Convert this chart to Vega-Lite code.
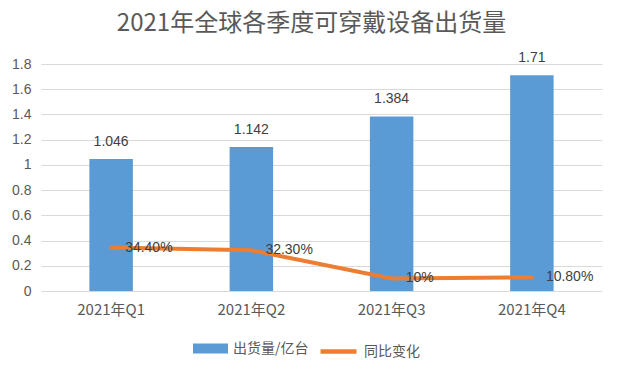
{
  "$schema": "https://vega.github.io/schema/vega-lite/v6.json",
  "width": 561,
  "height": 227,
  "autosize": {"type": "none"},
  "padding": {"left": 41, "top": 64, "right": 18, "bottom": 81},
  "background": "white",
  "title": {
    "text": "2021年全球各季度可穿戴设备出货量",
    "fontSize": 24,
    "font": "Noto Sans CJK SC",
    "fontWeight": "normal",
    "color": "#595959",
    "anchor": "middle",
    "offset": 15,
    "dx": -10
  },
  "data": {
    "values": [
      {"quarter": "2021年Q1", "shipment": 1.046, "yoy": 0.344, "yoyLabel": "34.40%", "s1": "出货量/亿台", "s2": "同比变化"},
      {"quarter": "2021年Q2", "shipment": 1.142, "yoy": 0.323, "yoyLabel": "32.30%", "s1": "出货量/亿台", "s2": "同比变化"},
      {"quarter": "2021年Q3", "shipment": 1.384, "yoy": 0.10, "yoyLabel": "10%", "s1": "出货量/亿台", "s2": "同比变化"},
      {"quarter": "2021年Q4", "shipment": 1.71, "yoy": 0.108, "yoyLabel": "10.80%", "s1": "出货量/亿台", "s2": "同比变化"}
    ]
  },
  "encoding": {
    "x": {
      "field": "quarter",
      "type": "nominal",
      "sort": null,
      "scale": {"paddingInner": 0.69, "paddingOuter": 0.345},
      "axis": {
        "title": null,
        "labelAngle": 0,
        "ticks": false,
        "domain": false,
        "labelFontSize": 15,
        "labelColor": "#595959",
        "labelFont": "Noto Sans CJK SC",
        "labelPadding": 11
      }
    }
  },
  "layer": [
    {
      "mark": {"type": "bar", "color": "#5B9BD5"},
      "encoding": {
        "y": {
          "field": "shipment",
          "type": "quantitative",
          "scale": {"domain": [0, 1.8]},
          "axis": {
            "title": null,
            "values": [0, 0.2, 0.4, 0.6, 0.8, 1, 1.2, 1.4, 1.6, 1.8],
            "format": "~g",
            "labelOverlap": false,
            "ticks": false,
            "domain": false,
            "gridColor": "#D9D9D9",
            "labelFontSize": 14,
            "labelColor": "#595959",
            "labelFont": "Liberation Sans",
            "labelPadding": 10
          }
        },
        "color": {
          "field": "s1",
          "type": "nominal",
          "scale": {"range": ["#5B9BD5"]},
          "legend": {
            "title": null,
            "orient": "none",
            "legendX": 152,
            "legendY": 267,
            "symbolType": "M-1,-0.286H1V0.286H-1Z",
            "symbolSize": 1225,
            "symbolStrokeWidth": 0,
            "labelFontSize": 14,
            "labelOffset": 5,
            "labelColor": "#595959",
            "labelFont": "Noto Sans CJK SC"
          }
        }
      }
    },
    {
      "mark": {"type": "text", "baseline": "bottom", "dy": -10, "fontSize": 14, "color": "#404040", "font": "Liberation Sans"},
      "encoding": {
        "y": {"field": "shipment", "type": "quantitative", "scale": {"domain": [0, 1.8]}, "axis": {"title": null, "values": [0, 0.2, 0.4, 0.6, 0.8, 1, 1.2, 1.4, 1.6, 1.8], "format": "~g", "labelOverlap": false}},
        "text": {"field": "shipment", "type": "quantitative"}
      }
    },
    {
      "mark": {"type": "line", "strokeWidth": 4, "strokeCap": "round"},
      "encoding": {
        "y": {"field": "yoy", "type": "quantitative", "scale": {"domain": [0, 1.8]}, "axis": {"title": null, "values": [0, 0.2, 0.4, 0.6, 0.8, 1, 1.2, 1.4, 1.6, 1.8], "format": "~g", "labelOverlap": false}},
        "color": {
          "field": "s2",
          "type": "nominal",
          "scale": {"range": ["#ED7D31"]},
          "legend": {
            "title": null,
            "orient": "none",
            "legendX": 277,
            "legendY": 267,
            "symbolType": "stroke",
            "symbolSize": 1296,
            "symbolStrokeWidth": 4.5,
            "labelFontSize": 14,
            "labelOffset": 5,
            "labelColor": "#595959",
            "labelFont": "Noto Sans CJK SC"
          }
        }
      }
    },
    {
      "mark": {"type": "text", "align": "left", "baseline": "middle", "dx": 14, "fontSize": 14, "color": "#404040", "font": "Liberation Sans"},
      "encoding": {
        "y": {"field": "yoy", "type": "quantitative", "scale": {"domain": [0, 1.8]}, "axis": {"title": null, "values": [0, 0.2, 0.4, 0.6, 0.8, 1, 1.2, 1.4, 1.6, 1.8], "format": "~g", "labelOverlap": false}},
        "text": {"field": "yoyLabel", "type": "nominal"}
      }
    }
  ],
  "resolve": {"scale": {"color": "independent"}},
  "config": {
    "view": {"stroke": null}
  }
}
